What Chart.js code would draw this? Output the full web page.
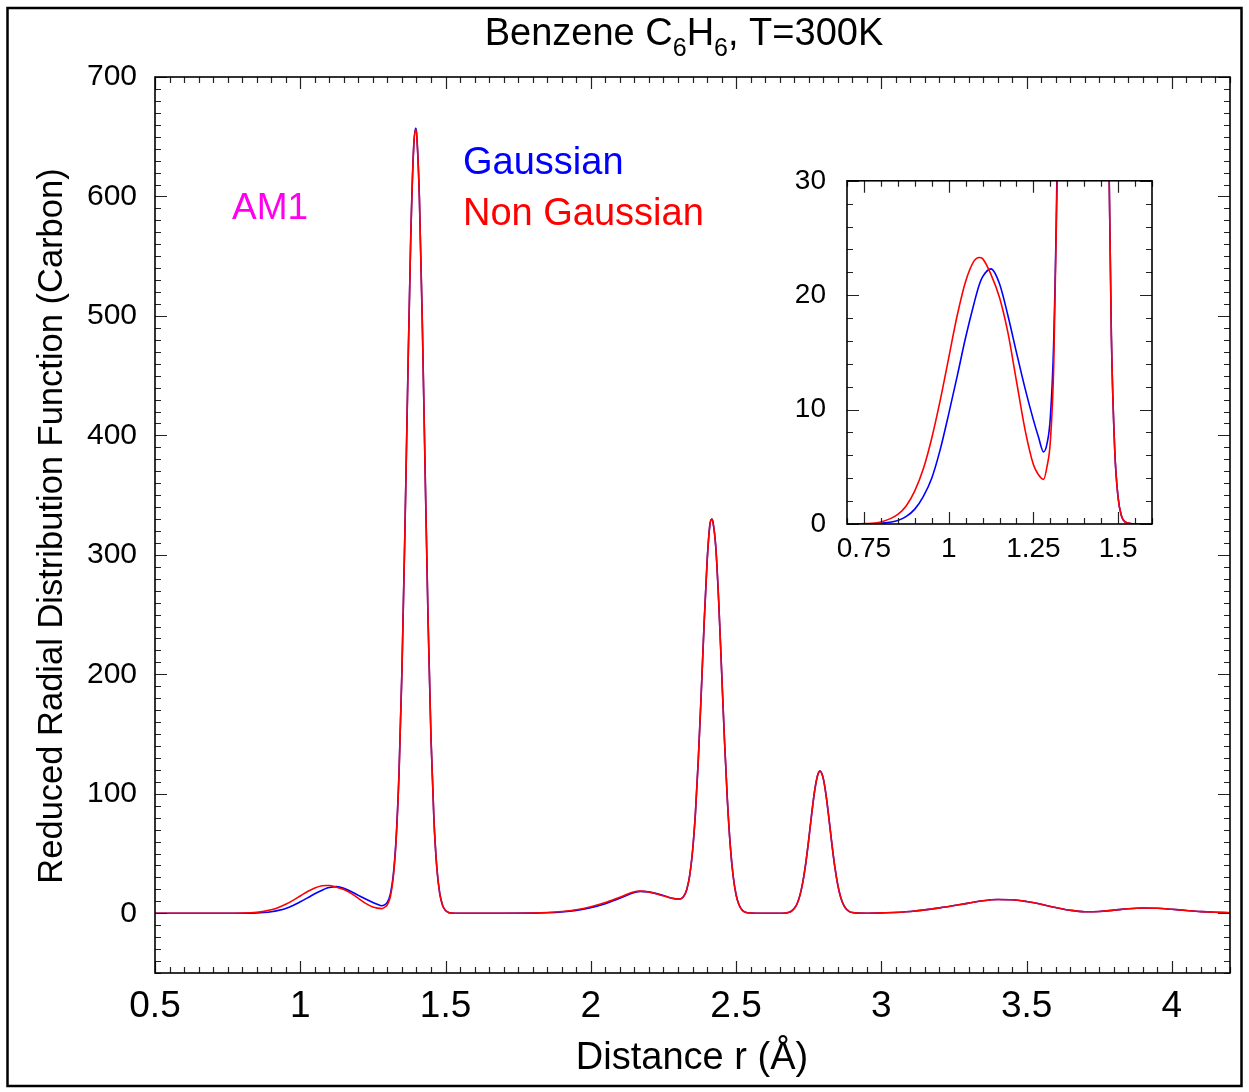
<!DOCTYPE html>
<html>
<head>
<meta charset="utf-8">
<script src="https://cdn.jsdelivr.net/npm/chart.js@4.4.1/dist/chart.umd.min.js"></script>
<style>
  html, body { margin: 0; padding: 0; background: #fff; }
  #wrap { position: relative; width: 1249px; height: 1092px; }
  #main { position: absolute; left: 0; top: 0; }
  #inset { position: absolute; left: 760px; top: 143px; }
</style>
</head>
<body>
<div id="wrap">
  <canvas id="main" width="1249" height="1092"></canvas>
  <canvas id="inset" width="420" height="437"></canvas>
</div>
<script>
// distance r in Angstrom
const distance = [
  0.5, 0.6, 0.7, 0.75, 0.8, 0.85, 0.875, 0.9, 0.925, 0.95, 0.975, 1.0, 1.025, 1.05, 1.075, 1.09, 1.1, 1.125, 1.15, 1.175, 1.2, 1.225, 1.25, 1.265, 1.28,
  1.29, 1.30, 1.31, 1.32, 1.33, 1.34, 1.35, 1.36, 1.37, 1.38, 1.39, 1.397, 1.40, 1.41, 1.42, 1.43, 1.44, 1.45, 1.46, 1.47, 1.48, 1.49, 1.50, 1.51, 1.52, 1.55,
  1.6, 1.7, 1.8, 1.85, 1.9, 1.95, 2.0, 2.05, 2.1, 2.15, 2.17, 2.2, 2.25, 2.28, 2.3,
  2.31, 2.32, 2.33, 2.34, 2.35, 2.36, 2.37, 2.38, 2.39, 2.40, 2.41, 2.417, 2.42, 2.43, 2.44, 2.45, 2.46, 2.47, 2.48, 2.49, 2.50, 2.51, 2.52, 2.53, 2.55, 2.6,
  2.66, 2.68, 2.69, 2.70, 2.71, 2.72, 2.73, 2.74, 2.75, 2.76, 2.77, 2.78, 2.789, 2.80, 2.81, 2.82, 2.83, 2.84, 2.85, 2.86, 2.87, 2.88, 2.89, 2.90, 2.92, 2.95,
  3.0, 3.1, 3.2, 3.3, 3.35, 3.4, 3.45, 3.5, 3.55, 3.6, 3.65, 3.7, 3.75, 3.8, 3.85, 3.9, 3.95, 4.0, 4.05, 4.1, 4.15, 4.2
]

// Gaussian (blue)
const gaussian = [
  0, 0, 0, 0.01, 0.06, 0.3, 0.66, 1.3, 2.4, 4.0, 6.5, 9.6, 12.9, 16.3, 19.3, 20.9, 21.6, 22.3, 21.0, 18.2, 15.0, 11.9, 9.1, 7.6, 6.3,
  7.0, 9.3, 16.0, 31.7, 63.2, 118.7, 204, 318, 446, 563, 640, 657, 654, 599, 495, 367, 244, 146, 78.8, 38.1, 16.6, 6.5, 2.3, 0.7, 0.2, 0,
  0, 0, 0.1, 0.4, 1.1, 2.4, 4.7, 8.0, 12.5, 17.3, 18.3, 17.9, 14.8, 12.6, 11.9,
  12.2, 14.3, 19.7, 31, 51.5, 83.6, 128.6, 183.8, 242.3, 293.2, 325.5, 330, 328, 307, 262, 204, 145.5, 95, 56.6, 31, 15.5, 7.1, 3, 1.1, 0.2, 0,
  0, 0.7, 1.7, 3.9, 8.0, 15.2, 26.4, 42.1, 61.6, 82.7, 101.8, 114.9, 119, 112.9, 98.3, 78.5, 57.5, 38.6, 23.8, 13.4, 7.0, 3.3, 1.4, 0.6, 0.1, 0,
  0.3, 1.5, 4.5, 8.5, 10.5, 11.5, 11.3, 9.8, 7.5, 4.8, 2.5, 1.3, 1.5, 2.6, 3.8, 4.4, 4.2, 3.3, 2.3, 1.4, 0.8, 0.4
]

// Non Gaussian (red)
const nonGaussian = [
  0, 0, 0, 0.03, 0.18, 0.84, 1.6, 2.9, 4.8, 7.5, 10.8, 14.5, 18.2, 21.2, 23.0, 23.3, 23.2, 21.8, 19.8, 16.7, 12.5, 8.3, 5.2, 4.3, 3.9,
  5.0, 7.2, 13.8, 29.7, 61.4, 117, 203, 317, 445.5, 562.5, 639, 656, 653, 599, 495, 367, 244, 146, 78.8, 38.1, 16.6, 6.5, 2.3, 0.7, 0.2, 0,
  0, 0, 0.2, 0.6, 1.5, 3.0, 5.5, 9.0, 13.5, 18.0, 18.5, 17.8, 14.6, 12.5, 11.8,
  12.1, 14.2, 19.6, 31, 51.5, 83.6, 128.6, 183.8, 242.3, 293.2, 325.5, 330, 328, 307, 262, 204, 145.5, 95, 56.6, 31, 15.5, 7.1, 3, 1.1, 0.2, 0,
  0, 0.7, 1.7, 3.9, 8.0, 15.2, 26.4, 42.1, 61.6, 82.7, 101.8, 114.9, 119, 112.9, 98.3, 78.5, 57.5, 38.6, 23.8, 13.4, 7.0, 3.3, 1.4, 0.6, 0.1, 0,
  0.3, 1.5, 4.5, 8.5, 10.5, 11.5, 11.3, 9.8, 7.5, 4.8, 2.5, 1.3, 1.5, 2.6, 3.8, 4.4, 4.2, 3.3, 2.3, 1.4, 0.8, 0.4
]

// tick labels
const xTicks = [0.5, 1, 1.5, 2, 2.5, 3, 3.5, 4]
const yTicks = [0, 100, 200, 300, 400, 500, 600, 700]
const insetXTicks = [0.75, 1, 1.25, 1.5]
const insetYTicks = [0, 10, 20, 30]

const FONT = "'Liberation Sans', Arial, Helvetica, sans-serif"
Chart.defaults.font.family = FONT
Chart.defaults.color = '#000'

const points = (ys) => distance.map((r, i) => ({ x: r, y: ys[i] }))

const series = () => [
  {
    label: 'Non Gaussian',
    data: points(nonGaussian),
    borderColor: '#ff0000',
    borderWidth: 1.6,
    pointRadius: 0,
    cubicInterpolationMode: 'monotone',
    fill: false,
  },
  {
    label: 'Gaussian',
    data: points(gaussian),
    borderColor: '#0000ff',
    borderWidth: 1.6,
    pointRadius: 0,
    cubicInterpolationMode: 'monotone',
    fill: false,
  },
]

// inward major/minor tick marks on all four sides + box
const tickMarks = {
  id: 'tickMarks',
  afterDatasetsDraw(chart, args, opts) {
    const { ctx, chartArea: a, scales: { x, y } } = chart
    ctx.save()
    ctx.strokeStyle = '#222'
    ctx.lineWidth = 1.2
    ctx.beginPath()
    const isMajor = (v, step) => Math.abs(v / step - Math.round(v / step)) < 1e-6
    for (let k = Math.ceil(x.min / opts.xMinor - 1e-9); k <= Math.floor(x.max / opts.xMinor + 1e-9); k++) {
      const v = k * opts.xMinor
      const px = Math.round(x.getPixelForValue(v)) + 0.5
      const len = isMajor(v, opts.xMajor) ? opts.major : opts.minor
      ctx.moveTo(px, a.bottom); ctx.lineTo(px, a.bottom - len)
      ctx.moveTo(px, a.top); ctx.lineTo(px, a.top + len)
    }
    for (let k = Math.ceil(y.min / opts.yMinor - 1e-9); k <= Math.floor(y.max / opts.yMinor + 1e-9); k++) {
      const v = k * opts.yMinor
      const py = Math.round(y.getPixelForValue(v)) + 0.5
      const len = isMajor(v, opts.yMajor) ? opts.major : opts.minor
      ctx.moveTo(a.left, py); ctx.lineTo(a.left + len, py)
      ctx.moveTo(a.right, py); ctx.lineTo(a.right - len, py)
    }
    ctx.stroke()
    ctx.strokeStyle = '#000'
    ctx.lineWidth = 1.6
    ctx.strokeRect(a.left, a.top, a.right - a.left, a.bottom - a.top)
    ctx.restore()
  }
}

// title, labels and frame of the main figure
const mainText = {
  id: 'mainText',
  afterDraw(chart) {
    const ctx = chart.ctx
    ctx.save()
    ctx.strokeStyle = '#000'
    ctx.lineWidth = 2.5
    ctx.strokeRect(7.5, 8, 1234, 1078)

    ctx.fillStyle = '#000'
    ctx.textAlign = 'left'
    ctx.textBaseline = 'alphabetic'
    const parts = [['Benzene C', 38, 0], ['6', 25, 11], ['H', 38, 0], ['6', 25, 11], [', T=300K', 38, 0]]
    let w = 0
    parts.forEach(p => { ctx.font = p[1] + 'px ' + FONT; w += ctx.measureText(p[0]).width })
    let x = 684 - w / 2
    parts.forEach(p => {
      ctx.font = p[1] + 'px ' + FONT
      ctx.fillText(p[0], x, 45 + p[2])
      x += ctx.measureText(p[0]).width
    })

    ctx.font = '37px ' + FONT
    ctx.fillStyle = '#ff00ee'
    ctx.fillText('AM1', 232, 219)
    ctx.font = '38px ' + FONT
    ctx.fillStyle = '#0000ff'
    ctx.fillText('Gaussian', 463, 174)
    ctx.fillStyle = '#ff0000'
    ctx.fillText('Non Gaussian', 463, 225)

    ctx.fillStyle = '#000'
    ctx.textAlign = 'center'
    ctx.font = '38px ' + FONT
    ctx.fillText('Distance r (\u00C5)', 692, 1069)

    ctx.translate(62, 526)
    ctx.rotate(-Math.PI / 2)
    ctx.font = '34.5px ' + FONT
    ctx.fillText('Reduced Radial Distribution Function (Carbon)', 0, 0)
    ctx.restore()
  }
}

const setTicks = (vals) => (scale) => { scale.ticks = vals.map(v => ({ value: v })) }

const mainChart = new Chart(document.getElementById('main'), {
  type: 'line',
  data: { datasets: series() },
  options: {
    responsive: false,
    animation: false,
    devicePixelRatio: 1,
    layout: { padding: { left: 0, right: 19, top: 77, bottom: 0 } },
    plugins: {
      legend: { display: false },
      tooltip: { enabled: false },
      tickMarks: { xMinor: 0.05, xMajor: 0.5, yMinor: 10, yMajor: 100, major: 12, minor: 6 },
    },
    scales: {
      x: {
        type: 'linear', min: 0.5, max: 4.2,
        grid: { display: false, drawTicks: false },
        border: { display: false },
        afterBuildTicks: setTicks(xTicks),
        afterFit: (s) => { s.height = 119 },
        ticks: { font: { size: 37 }, padding: 12, maxRotation: 0, autoSkip: false, callback: (v) => String(v) },
      },
      y: {
        type: 'linear', min: -50, max: 700,
        grid: { display: false, drawTicks: false },
        border: { display: false },
        afterBuildTicks: setTicks(yTicks),
        afterFit: (s) => { s.width = 155 },
        ticks: { font: { size: 30 }, padding: 18, autoSkip: false, callback: (v) => String(v) },
      },
    },
  },
  plugins: [tickMarks, mainText],
})

const insetChart = new Chart(document.getElementById('inset'), {
  type: 'line',
  data: { datasets: series() },
  options: {
    responsive: false,
    animation: false,
    devicePixelRatio: 1,
    layout: { padding: { left: 0, right: 28, top: 21, bottom: 0 } },
    plugins: {
      legend: { display: false },
      tooltip: { enabled: false },
      tickMarks: { xMinor: 0.05, xMajor: 0.25, yMinor: 2, yMajor: 10, major: 12, minor: 6 },
    },
    scales: {
      x: {
        type: 'linear', min: 0.7, max: 1.6,
        grid: { display: false, drawTicks: false },
        border: { display: false },
        afterBuildTicks: setTicks(insetXTicks),
        afterFit: (s) => { s.height = 56 },
        ticks: { font: { size: 28 }, padding: 8, maxRotation: 0, autoSkip: false, callback: (v) => String(v) },
      },
      y: {
        type: 'linear', min: 0, max: 30,
        grid: { display: false, drawTicks: false },
        border: { display: false },
        afterBuildTicks: setTicks(insetYTicks),
        afterFit: (s) => { s.width = 87 },
        ticks: { font: { size: 28 }, padding: 21, autoSkip: false, callback: (v) => String(v) },
      },
    },
  },
  plugins: [tickMarks],
})
</script>
</body>
</html>
